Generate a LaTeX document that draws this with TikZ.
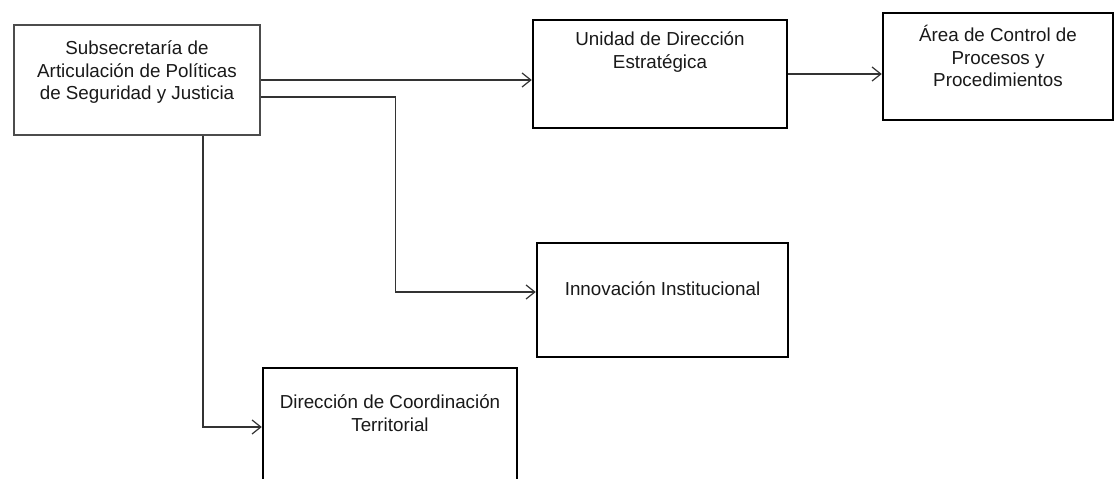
\documentclass[tikz,border=0pt]{standalone}
\usepackage{fontspec}
\setmainfont{Liberation Sans}
\usetikzlibrary{arrows.meta}

\tikzset{
	unitbox/.style={draw, line width=1.4pt, inner sep=0pt},
	headbox/.style={draw=black!70, line width=0.9pt, inner sep=0pt},
	lbl/.style={anchor=north, align=center, text=black!90},
	link/.style={draw=black!80, line width=0.7pt, -{Straight Barb[length=5pt,width=8pt]}}
}

\begin{document}
\begin{tikzpicture}[x=0.02cm, y=-0.02cm, font=\fontsize{10.7}{13}\selectfont]
	\useasboundingbox (0,0) rectangle (1115,479);
	\clip (0,0) rectangle (1115,479);
	
	\node[headbox, minimum width=4.92cm, minimum height=2.2cm,
		label={[lbl, yshift=-0.2cm]north:Subsecretaría de\\Articulación de Políticas\\de Seguridad y Justicia}] (sub) at (137,80) {};
	\node[unitbox, minimum width=5.08cm, minimum height=2.16cm,
		label={[lbl, yshift=-0.14cm]north:Unidad de Dirección\\Estratégica}] (ude) at (660,74) {};
	\node[unitbox, minimum width=4.6cm, minimum height=2.14cm,
		label={[lbl, yshift=-0.14cm]north:Área de Control de\\Procesos y\\Procedimientos}] (acp) at (998,66.5) {};
	\node[unitbox, minimum width=5.02cm, minimum height=2.28cm,
		label={[lbl, yshift=-0.68cm]north:Innovación Institucional}] (inn) at (662.5,300) {};
	\node[unitbox, minimum width=5.08cm, minimum height=2.36cm,
		label={[lbl, yshift=-0.44cm]north:Dirección de Coordinación\\Territorial}] (dct) at (390,427) {};
	
	\draw[link] (sub.east) -- (sub.east -| ude.west);
	\draw[link] (ude.east) -- (ude.east -| acp.west);
	\draw[link] ([yshift=-0.34cm]sub.east) -- ++(135,0) |- ([yshift=0.16cm]inn.west);
	\draw[link] ([xshift=1.32cm]sub.south) |- (dct.west);
\end{tikzpicture}
\end{document}
